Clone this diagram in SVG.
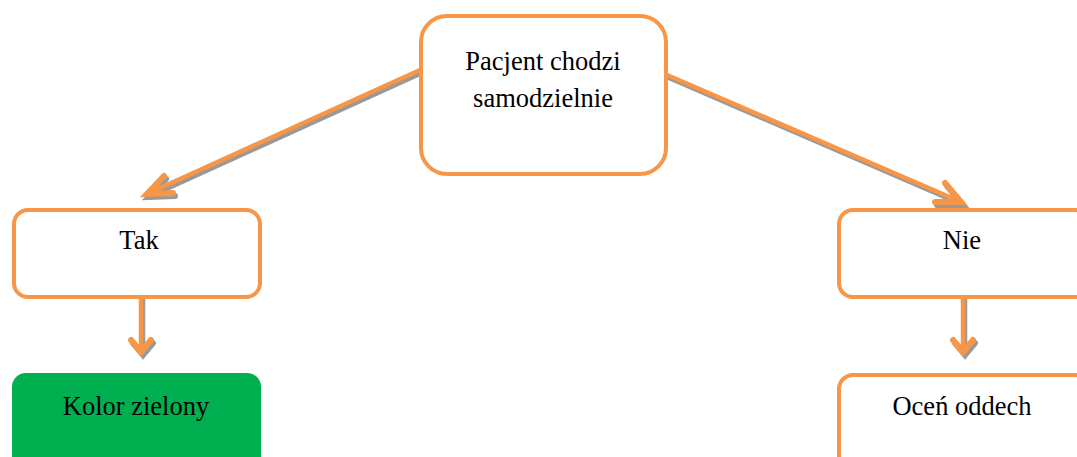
<svg xmlns="http://www.w3.org/2000/svg" width="1077" height="457" viewBox="0 0 1077 457">
<style>
.box{fill:#fff;stroke:#F79646;stroke-width:4}
.green{fill:#00B050;stroke:none}
.t{font-family:"Liberation Serif","Times New Roman",serif;font-size:26.5px;fill:#000;text-anchor:middle}
.ln{fill:none;stroke:#F79646;stroke-width:4.5;stroke-linecap:round;stroke-linejoin:round}
.hd{fill:none;stroke:#F79646;stroke-width:6;stroke-linecap:round;stroke-linejoin:miter}
.sh{fill:none;stroke:#999;stroke-width:4.5;stroke-linecap:round;stroke-linejoin:round}
.shh{fill:none;stroke:#999;stroke-width:6;stroke-linecap:round;stroke-linejoin:miter}
</style>
<rect width="1077" height="457" fill="#fff"/>
<g id="connectors">
<g transform="translate(2,3)">
<path class="sh" d="M420,70 L147,194"/>
<path class="shh" d="M164,176 L147,194 L173,193"/>
<path class="sh" d="M667,75 L961,202"/>
<path class="shh" d="M935,202 L961,202 L945,183"/>
<path class="sh" d="M141,297 L141,352"/>
<path class="shh" d="M131,340 L141,352 L151,340"/>
<path class="sh" d="M963,297 L963,352"/>
<path class="shh" d="M953,340 L963,352 L973,340"/>
</g>
<path class="ln" d="M420,70 L147,194"/>
<path class="hd" d="M164,176 L147,194 L173,193"/>
<path class="ln" d="M667,75 L961,202"/>
<path class="hd" d="M935,202 L961,202 L945,183"/>
<path class="ln" d="M141,297 L141,352"/>
<path class="hd" d="M131,340 L141,352 L151,340"/>
<path class="ln" d="M963,297 L963,352"/>
<path class="hd" d="M953,340 L963,352 L973,340"/>
</g>
<g id="node-start">
<rect class="box" x="421" y="16" width="245" height="158" rx="26"/>
<text class="t" x="543" y="70">Pacjent chodzi</text>
<text class="t" x="543" y="107">samodzielnie</text>
</g>
<g id="node-tak">
<rect class="box" x="14" y="210" width="246" height="87" rx="14"/>
<text class="t" x="139" y="249">Tak</text>
</g>
<g id="node-nie">
<rect class="box" x="839" y="210" width="250" height="87" rx="14"/>
<text class="t" x="962" y="249">Nie</text>
</g>
<g id="node-kolor">
<rect class="green" x="12" y="373" width="249" height="100" rx="14"/>
<text class="t" x="136" y="415">Kolor zielony</text>
</g>
<g id="node-ocen">
<rect class="box" x="839" y="375" width="250" height="100" rx="14"/>
<text class="t" x="962" y="415">Oceń oddech</text>
</g>
</svg>
